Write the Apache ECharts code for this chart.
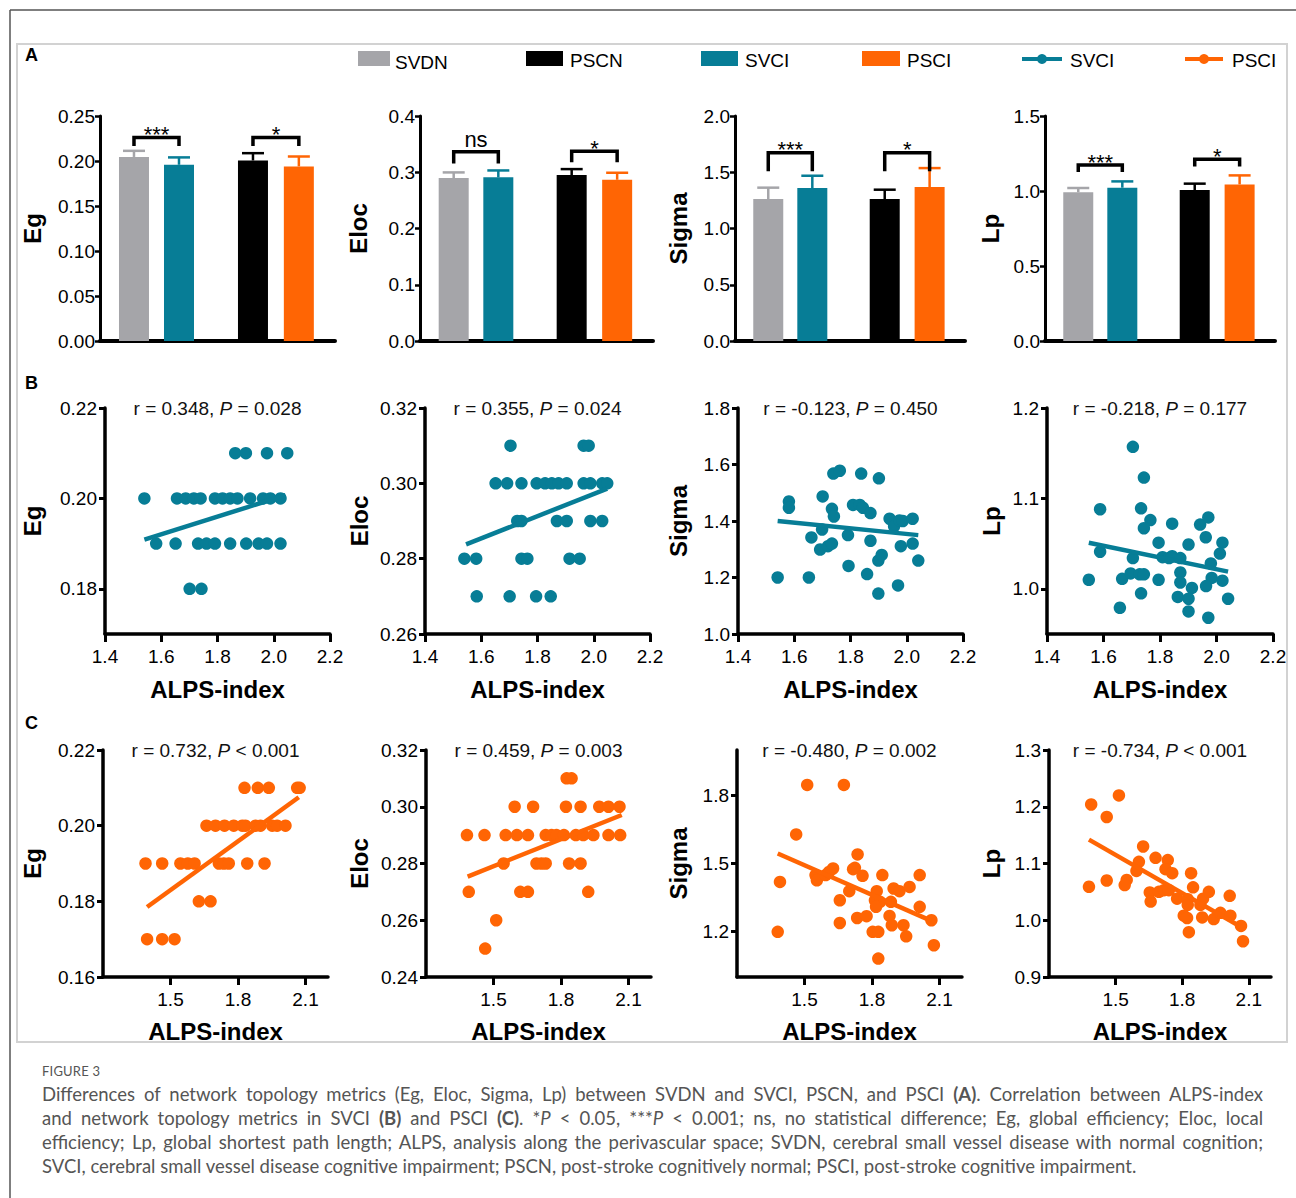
<!DOCTYPE html>
<html>
<head>
<meta charset="utf-8">
<script src="https://cdn.jsdelivr.net/npm/echarts@6/dist/echarts.min.js"></script>
<style>
html,body{margin:0;padding:0;background:#fff;}
#chart{position:absolute;left:0;top:0;width:1296px;height:1198px;}
#cap{position:absolute;left:42px;top:1061px;width:1221px;font-family:Lato,"Open Sans",sans-serif;color:#555;}
#cap .fig{font-size:13px;line-height:20px;letter-spacing:0.2px;margin-bottom:1px;}
#cap .ln{font-size:18.5px;line-height:24px;text-align:justify;text-align-last:justify;}
#cap .ln.last{text-align-last:left;}
</style>
</head>
<body>
<div id="chart"></div>
<div id="cap">
<div class="fig">FIGURE 3</div>
<div class="ln">Differences of network topology metrics (Eg, Eloc, Sigma, Lp) between SVDN and SVCI, PSCN, and PSCI <b>(A)</b>. Correlation between ALPS-index</div>
<div class="ln">and network topology metrics in SVCI <b>(B)</b> and PSCI <b>(C)</b>. *<i>P</i> &lt; 0.05, ***<i>P</i> &lt; 0.001; ns, no statistical difference; Eg, global efficiency; Eloc, local</div>
<div class="ln">efficiency; Lp, global shortest path length; ALPS, analysis along the perivascular space; SVDN, cerebral small vessel disease with normal cognition;</div>
<div class="ln last">SVCI, cerebral small vessel disease cognitive impairment; PSCN, post-stroke cognitively normal; PSCI, post-stroke cognitive impairment.</div>
</div>
<script>
// ---------------- DATA ----------------
const barGroups = ['SVDN', 'SVCI', 'PSCN', 'PSCI'];
const legendNames = ['SVDN', 'PSCN', 'SVCI', 'PSCI', 'SVCI', 'PSCI'];
const metricNames = ['Eg', 'Eloc', 'Sigma', 'Lp'];

const egMean = [0.2045, 0.1958, 0.2006, 0.1940];
const egUpper = [0.2113, 0.2040, 0.2087, 0.2050];
const elocMean = [0.2897, 0.2909, 0.2950, 0.2867];
const elocUpper = [0.2997, 0.3032, 0.3056, 0.2991];
const sigmaMean = [1.262, 1.360, 1.262, 1.369];
const sigmaUpper = [1.363, 1.469, 1.345, 1.537];
const lpMean = [0.992, 1.022, 1.006, 1.044];
const lpUpper = [1.020, 1.064, 1.049, 1.104];

// significance: [label, bracket top, bracket foot]
const egSig = [['***', 0.2262, 0.2168], ['*', 0.2262, 0.2168]];
const elocSig = [['ns', 0.3364, 0.3154], ['*', 0.3375, 0.3177]];
const sigmaSig = [['***', 1.673, 1.508], ['*', 1.673, 1.508]];
const lpSig = [['***', 1.173, 1.127], ['*', 1.211, 1.164]];

// Panel B (SVCI) scatter
const svciEg = [
 [1.863,0.21],[1.901,0.21],[1.976,0.21],[2.048,0.21],
 [1.540,0.20],[1.656,0.20],[1.687,0.20],[1.716,0.20],[1.740,0.20],[1.791,0.20],[1.818,0.20],[1.845,0.20],[1.871,0.20],[1.916,0.20],[1.962,0.20],[1.988,0.20],[2.024,0.20],
 [1.582,0.19],[1.651,0.19],[1.731,0.19],[1.761,0.19],[1.791,0.19],[1.845,0.19],[1.902,0.19],[1.946,0.19],[1.976,0.19],[2.024,0.19],
 [1.701,0.18],[1.743,0.18]
];
const svciEloc = [
 [1.704,0.31],[1.964,0.31],[1.982,0.31],
 [1.651,0.30],[1.692,0.30],[1.743,0.30],[1.797,0.30],[1.827,0.30],[1.851,0.30],[1.875,0.30],[1.904,0.30],[1.964,0.30],[1.988,0.30],[2.030,0.30],[2.048,0.30],
 [1.728,0.29],[1.743,0.29],[1.869,0.29],[1.904,0.29],[1.988,0.29],[2.030,0.29],
 [1.540,0.28],[1.582,0.28],[1.743,0.28],[1.764,0.28],[1.914,0.28],[1.950,0.28],
 [1.584,0.27],[1.701,0.27],[1.795,0.27],[1.847,0.27]
];
const svciSigma = [
 [1.541,1.200],[1.652,1.200],[1.581,1.469],[1.581,1.447],[1.661,1.342],[1.699,1.370],[1.701,1.487],[1.692,1.299],
 [1.720,1.311],[1.734,1.320],[1.734,1.443],[1.741,1.416],[1.739,1.568],[1.762,1.578],[1.791,1.350],[1.793,1.241],
 [1.809,1.457],[1.833,1.457],[1.844,1.447],[1.838,1.568],[1.871,1.428],[1.871,1.330],[1.859,1.212],[1.901,1.551],
 [1.899,1.143],[1.899,1.260],[1.911,1.280],[1.939,1.408],[1.955,1.381],[1.974,1.402],[1.986,1.400],[1.979,1.311],
 [2.021,1.408],[2.021,1.320],[1.969,1.172],[2.041,1.260]
];
const svciLp = [
 [1.704,1.157],[1.743,1.123],[1.588,1.088],[1.733,1.089],[1.766,1.076],[1.743,1.067],[1.843,1.072],[1.942,1.071],
 [1.971,1.079],[1.962,1.057],[1.795,1.051],[1.901,1.049],[2.021,1.051],[1.588,1.041],[1.704,1.034],[1.809,1.035],
 [1.832,1.034],[1.843,1.036],[1.872,1.034],[1.980,1.028],[2.012,1.039],[1.548,1.010],[1.666,1.011],[1.696,1.017],
 [1.728,1.016],[1.743,1.016],[1.795,1.010],[1.872,1.018],[1.872,1.007],[1.983,1.012],[1.963,1.003],[2.021,1.009],
 [1.733,0.995],[1.863,0.991],[1.913,1.001],[1.901,0.989],[2.041,0.989],[1.658,0.979],[1.901,0.975],[1.971,0.968]
];
// Panel C (PSCI) scatter
const psciEg = [
 [1.829,0.21],[1.888,0.21],[1.937,0.21],[2.063,0.21],[2.074,0.21],
 [1.660,0.20],[1.700,0.20],[1.740,0.20],[1.781,0.20],[1.819,0.20],[1.833,0.20],[1.878,0.20],[1.900,0.20],[1.952,0.20],[1.974,0.20],[2.011,0.20],
 [1.389,0.19],[1.463,0.19],[1.544,0.19],[1.577,0.19],[1.607,0.19],[1.715,0.19],[1.737,0.19],[1.759,0.19],[1.841,0.19],[1.918,0.19],
 [1.626,0.18],[1.678,0.18],
 [1.396,0.17],[1.463,0.17],[1.518,0.17]
];
const psciEloc = [
 [1.825,0.31],[1.847,0.31],
 [1.594,0.30],[1.676,0.30],[1.822,0.30],[1.887,0.30],[1.970,0.30],[2.011,0.30],[2.060,0.30],
 [1.382,0.29],[1.460,0.29],[1.554,0.29],[1.604,0.29],[1.653,0.29],[1.732,0.29],[1.758,0.29],[1.780,0.29],[1.813,0.29],[1.866,0.29],[1.899,0.29],[1.944,0.29],[2.011,0.29],[2.063,0.29],
 [1.545,0.28],[1.691,0.28],[1.713,0.28],[1.732,0.28],[1.836,0.28],[1.887,0.28],
 [1.390,0.27],[1.619,0.27],[1.653,0.27],[1.921,0.27],
 [1.512,0.26],
 [1.463,0.25]
];
const psciSigma = [
 [1.512,1.846],[1.675,1.846],[1.463,1.628],[1.391,1.419],[1.381,1.199],[1.736,1.540],[1.627,1.478],[1.724,1.481],
 [1.716,1.475],[1.549,1.449],[1.555,1.426],[1.594,1.449],[1.609,1.463],[1.758,1.446],[1.846,1.449],[2.012,1.449],
 [1.657,1.338],[1.699,1.378],[1.821,1.378],[1.896,1.390],[1.922,1.378],[1.967,1.397],[1.813,1.338],[1.836,1.331],
 [1.884,1.331],[1.818,1.309],[2.012,1.309],[1.657,1.238],[1.734,1.260],[1.776,1.268],[1.878,1.269],[1.888,1.228],
 [1.940,1.228],[1.952,1.179],[2.064,1.250],[1.803,1.199],[1.828,1.199],[2.075,1.140],[1.828,1.081]
];
const psciLp = [
 [1.390,1.204],[1.515,1.220],[1.460,1.182],[1.624,1.130],[1.680,1.110],[1.605,1.103],[1.735,1.106],[1.594,1.087],
 [1.725,1.090],[1.755,1.083],[1.840,1.083],[1.380,1.059],[1.460,1.070],[1.550,1.071],[1.541,1.062],[1.654,1.049],
 [1.658,1.033],[1.695,1.050],[1.718,1.053],[1.740,1.053],[1.777,1.038],[1.825,1.037],[1.849,1.058],[1.825,1.027],
 [1.882,1.027],[1.894,1.038],[1.920,1.050],[2.014,1.043],[1.807,1.008],[1.822,1.004],[1.890,1.005],[1.942,1.002],
 [1.972,1.013],[2.017,1.008],[1.830,0.979],[2.065,0.990],[2.074,0.963]
];
// fitted lines (end points)
const fitSvciEg = [[1.540,0.1909],[2.042,0.2007]];
const fitSvciEloc = [[1.546,0.2838],[2.048,0.2986]];
const fitSvciSigma = [[1.541,1.400],[2.041,1.350]];
const fitSvciLp = [[1.548,1.051],[2.041,1.019]];
const fitPsciEg = [[1.396,0.1785],[2.070,0.2075]];
const fitPsciEloc = [[1.385,0.2754],[2.070,0.2971]];
const fitPsciSigma = [[1.381,1.544],[2.064,1.247]];
const fitPsciLp = [[1.380,1.142],[2.062,0.989]];

const statsB_r = ['0.348', '0.355', '-0.123', '-0.218'];
const statsB_p = ['= 0.028', '= 0.024', '= 0.450', '= 0.177'];
const statsC_r = ['0.732', '0.459', '-0.480', '-0.734'];
const statsC_p = ['< 0.001', '= 0.003', '= 0.002', '< 0.001'];

// tick labels
const barTicks = [[0, 0.25, 0.05, 2], [0, 0.4, 0.1, 1], [0, 2.0, 0.5, 1], [0, 1.5, 0.5, 1]];
const xTicksB = [1.4, 1.6, 1.8, 2.0, 2.2];
const xTicksC = [1.5, 1.8, 2.1];
const yTicksB = [[0.18, 0.20, 0.22], [0.26, 0.28, 0.30, 0.32], [1.0, 1.2, 1.4, 1.6, 1.8], [1.0, 1.1, 1.2]];
const yTicksC = [[0.16, 0.18, 0.20, 0.22], [0.24, 0.26, 0.28, 0.30, 0.32], [1.2, 1.5, 1.8], [0.9, 1.0, 1.1, 1.2, 1.3]];
const yRangeB = [[0.17, 0.22], [0.26, 0.32], [1.0, 1.8], [0.95, 1.2]];
const yRangeC = [[0.16, 0.22], [0.24, 0.32], [1.0, 2.0], [0.9, 1.3]];

// ---------------- STYLE / LAYOUT ----------------
const FONT = '"Liberation Sans", Arial, Helvetica, sans-serif';
const GRAY = '#A5A5A9', TEAL = '#077D96', BLACK = '#000000', ORANGE = '#FF6504';
const barColors = [GRAY, TEAL, BLACK, ORANGE];
const SLOT = [0.752, 1.748, 3.385, 4.40];
const barLayout = [
  {left: 100, top: 116, width: 235, height: 225, nameGap: 56},
  {left: 420, top: 116, width: 233, height: 225, nameGap: 50},
  {left: 735, top: 116, width: 230, height: 225, nameGap: 45},
  {left: 1045, top: 116, width: 230, height: 225, nameGap: 43}
];
const layB = [
  {left: 105, top: 408, width: 225, height: 226, nameGap: 61},
  {left: 425, top: 408, width: 225, height: 226, nameGap: 54},
  {left: 738, top: 408, width: 225, height: 226, nameGap: 48},
  {left: 1047, top: 408, width: 226, height: 226, nameGap: 44}
];
const layC = [
  {left: 103, top: 750, width: 225, height: 227, nameGap: 59},
  {left: 426, top: 750, width: 225, height: 227, nameGap: 55},
  {left: 737, top: 750, width: 225, height: 227, nameGap: 47},
  {left: 1049, top: 750, width: 222, height: 227, nameGap: 46}
];

const grids = [], xAxes = [], yAxes = [], series = [], graphics = [];

function axisNameStyle() {
  return {fontSize: 24, fontWeight: 'bold', fontFamily: FONT, color: '#000'};
}

function errRender(params, api) {
  const x = api.value(0), m = api.value(1), u = api.value(2), k = api.value(3);
  const p0 = api.coord([x, m]), p1 = api.coord([x, u]);
  const col = barColors[k];
  return {type: 'group', children: [
    {type: 'line', shape: {x1: p0[0], y1: p0[1], x2: p1[0], y2: p1[1]}, style: {stroke: col, lineWidth: 2.5}},
    {type: 'line', shape: {x1: p1[0] - 11, y1: p1[1], x2: p1[0] + 11, y2: p1[1]}, style: {stroke: col, lineWidth: 2.5}}
  ]};
}

function makeBracketRender(sig) {
  return function (params, api) {
    const a = api.coord([api.value(0), api.value(2)]);
    const b = api.coord([api.value(1), api.value(2)]);
    const yb = api.coord([api.value(0), api.value(3)])[1];
    const lab = sig[params.dataIndex][0];
    const isNs = lab === 'ns';
    return {type: 'group', children: [
      {type: 'polyline', shape: {points: [[a[0], yb], [a[0], a[1]], [b[0], b[1]], [b[0], yb]]},
       style: {stroke: '#000', lineWidth: 3.5, fill: null}},
      {type: 'text', x: (a[0] + b[0]) / 2, y: isNs ? a[1] - 1 : a[1] + 8,
       style: {text: lab, textAlign: 'center', verticalAlign: 'bottom', textVerticalAlign: 'bottom',
               fontSize: isNs ? 22 : 22, fontFamily: FONT, fill: '#000'}}
    ]};
  };
}

// ---------- Panel A: bar charts ----------
const barMeans = [egMean, elocMean, sigmaMean, lpMean];
const barUppers = [egUpper, elocUpper, sigmaUpper, lpUpper];
const barSigs = [egSig, elocSig, sigmaSig, lpSig];

barLayout.forEach((L, i) => {
  const gi = grids.length;
  grids.push({left: L.left, top: L.top, width: L.width, height: L.height, containLabel: false});
  const t = barTicks[i];
  xAxes.push({gridIndex: gi, type: 'value', min: 0, max: 5.2,
    axisLine: {show: true, onZero: false, lineStyle: {color: '#000', width: 4}},
    axisTick: {show: false}, axisLabel: {show: false}, splitLine: {show: false}});
  yAxes.push({gridIndex: gi, type: 'value', min: t[0], max: t[1], interval: t[2],
    name: metricNames[i], nameLocation: 'middle', nameGap: L.nameGap, nameTextStyle: axisNameStyle(),
    axisLine: {show: true, onZero: false, lineStyle: {color: '#000', width: 3}},
    axisTick: {show: true, length: 5, lineStyle: {color: '#000', width: 2.5}},
    axisLabel: {margin: 5, fontSize: 19, color: '#000', fontFamily: FONT, formatter: v => v.toFixed(t[3])},
    splitLine: {show: false}});
  series.push({type: 'bar', xAxisIndex: gi, yAxisIndex: gi, barWidth: 30, silent: true, z: 2,
    data: barMeans[i].map((v, k) => ({name: barGroups[k], value: [SLOT[k], v], itemStyle: {color: barColors[k]}}))});
  series.push({type: 'custom', xAxisIndex: gi, yAxisIndex: gi, z: 3, silent: true, renderItem: errRender,
    data: barMeans[i].map((v, k) => [SLOT[k], v, barUppers[i][k], k])});
  series.push({type: 'custom', xAxisIndex: gi, yAxisIndex: gi, z: 4, silent: true,
    renderItem: makeBracketRender(barSigs[i]),
    data: barSigs[i].map((s, j) => [SLOT[j * 2], SLOT[j * 2 + 1], s[1], s[2]])});
});

// ---------- Panels B and C: scatter ----------
function addScatter(L, data, fit, color, yName, yRange, yTicks, xMin, xMax, xTicks, r, p, xNameGap) {
  const gi = grids.length;
  grids.push({left: L.left, top: L.top, width: L.width, height: L.height, containLabel: false});
  const yDec = yTicks[0] < 0.5 ? 2 : 1;
  xAxes.push({gridIndex: gi, type: 'value', min: xMin, max: xMax,
    name: 'ALPS-index', nameLocation: 'middle', nameGap: xNameGap, nameTextStyle: axisNameStyle(),
    axisLine: {show: true, onZero: false, lineStyle: {color: '#000', width: 3.5}},
    axisTick: {show: true, length: 8, customValues: xTicks, lineStyle: {color: '#000', width: 3}},
    axisLabel: {margin: 13, fontSize: 19, color: '#000', fontFamily: FONT, customValues: xTicks, formatter: v => v.toFixed(1)},
    splitLine: {show: false}});
  yAxes.push({gridIndex: gi, type: 'value', min: yRange[0], max: yRange[1],
    name: yName, nameLocation: 'middle', nameGap: L.nameGap, nameTextStyle: axisNameStyle(),
    axisLine: {show: true, onZero: false, lineStyle: {color: '#000', width: 3.5}},
    axisTick: {show: true, length: 6, customValues: yTicks, lineStyle: {color: '#000', width: 3}},
    axisLabel: {margin: 8, fontSize: 19, color: '#000', fontFamily: FONT, customValues: yTicks, formatter: v => v.toFixed(yDec)},
    splitLine: {show: false}});
  series.push({type: 'scatter', xAxisIndex: gi, yAxisIndex: gi, data: data, symbolSize: 12.5, silent: true,
    itemStyle: {color: color, opacity: 1}, z: 2});
  series.push({type: 'line', xAxisIndex: gi, yAxisIndex: gi, data: fit, symbol: 'none', silent: true,
    lineStyle: {color: color, width: 4.5}, z: 3});
  graphics.push({type: 'text', x: L.left + L.width / 2, y: L.top,
    style: {text: '{n|r = ' + r + ', }{i|P}{n| ' + p + '}', textAlign: 'center', verticalAlign: 'middle', textVerticalAlign: 'middle',
      rich: {n: {fontSize: 19, fontFamily: FONT, fill: '#111'}, i: {fontSize: 19, fontFamily: FONT, fontStyle: 'italic', fill: '#111'}}}});
}

const dataB = [svciEg, svciEloc, svciSigma, svciLp];
const fitB = [fitSvciEg, fitSvciEloc, fitSvciSigma, fitSvciLp];
const dataC = [psciEg, psciEloc, psciSigma, psciLp];
const fitC = [fitPsciEg, fitPsciEloc, fitPsciSigma, fitPsciLp];
for (let i = 0; i < 4; i++) {
  addScatter(layB[i], dataB[i], fitB[i], TEAL, metricNames[i], yRangeB[i], yTicksB[i], 1.4, 2.2, xTicksB, statsB_r[i], statsB_p[i], 43);
}
for (let i = 0; i < 4; i++) {
  addScatter(layC[i], dataC[i], fitC[i], ORANGE, metricNames[i], yRangeC[i], yTicksC[i], 1.2, 2.2, xTicksC, statsC_r[i], statsC_p[i], 42);
}

// ---------- frame, panel letters, legend ----------
graphics.push({type: 'line', shape: {x1: 10, y1: 10, x2: 1296, y2: 10}, style: {stroke: '#555', lineWidth: 1.5}});
graphics.push({type: 'line', shape: {x1: 10, y1: 10, x2: 10, y2: 1198}, style: {stroke: '#555', lineWidth: 1.5}});
graphics.push({type: 'rect', shape: {x: 17, y: 44, width: 1270, height: 998}, style: {stroke: '#d2d2d2', lineWidth: 2, fill: 'none'}});
[['A', 55], ['B', 383], ['C', 723]].forEach(d => {
  graphics.push({type: 'text', x: 25, y: d[1], style: {text: d[0], fontSize: 18, fontWeight: 'bold', fontFamily: FONT, fill: '#000',
    textAlign: 'left', verticalAlign: 'middle', textVerticalAlign: 'middle'}});
});
const legendSpec = [
  {kind: 'rect', x: 358, w: 32, color: GRAY, tx: 395, ty: 62},
  {kind: 'rect', x: 526, w: 37, color: BLACK, tx: 570, ty: 60},
  {kind: 'rect', x: 701, w: 37, color: TEAL, tx: 745, ty: 60},
  {kind: 'rect', x: 862, w: 38, color: ORANGE, tx: 907, ty: 60},
  {kind: 'line', x: 1022, w: 40, color: TEAL, tx: 1070, ty: 60},
  {kind: 'line', x: 1185, w: 38, color: ORANGE, tx: 1232, ty: 60}
];
legendSpec.forEach((s, i) => {
  if (s.kind === 'rect') {
    graphics.push({type: 'rect', shape: {x: s.x, y: 51, width: s.w, height: 15}, style: {fill: s.color}});
  } else {
    graphics.push({type: 'line', shape: {x1: s.x, y1: 59, x2: s.x + s.w, y2: 59}, style: {stroke: s.color, lineWidth: 4}});
    graphics.push({type: 'circle', shape: {cx: s.x + s.w / 2, cy: 59, r: 5}, style: {fill: s.color}});
  }
  graphics.push({type: 'text', x: s.tx, y: s.ty, style: {text: legendNames[i], fontSize: 19, fontFamily: FONT, fill: '#000',
    textAlign: 'left', verticalAlign: 'middle', textVerticalAlign: 'middle'}});
});

const chart = echarts.init(document.getElementById('chart'), null, {renderer: 'svg', width: 1296, height: 1198});
chart.setOption({
  backgroundColor: '#fff',
  animation: false,
  grid: grids,
  xAxis: xAxes,
  yAxis: yAxes,
  series: series,
  graphic: {elements: graphics}
});
</script>
</body>
</html>
